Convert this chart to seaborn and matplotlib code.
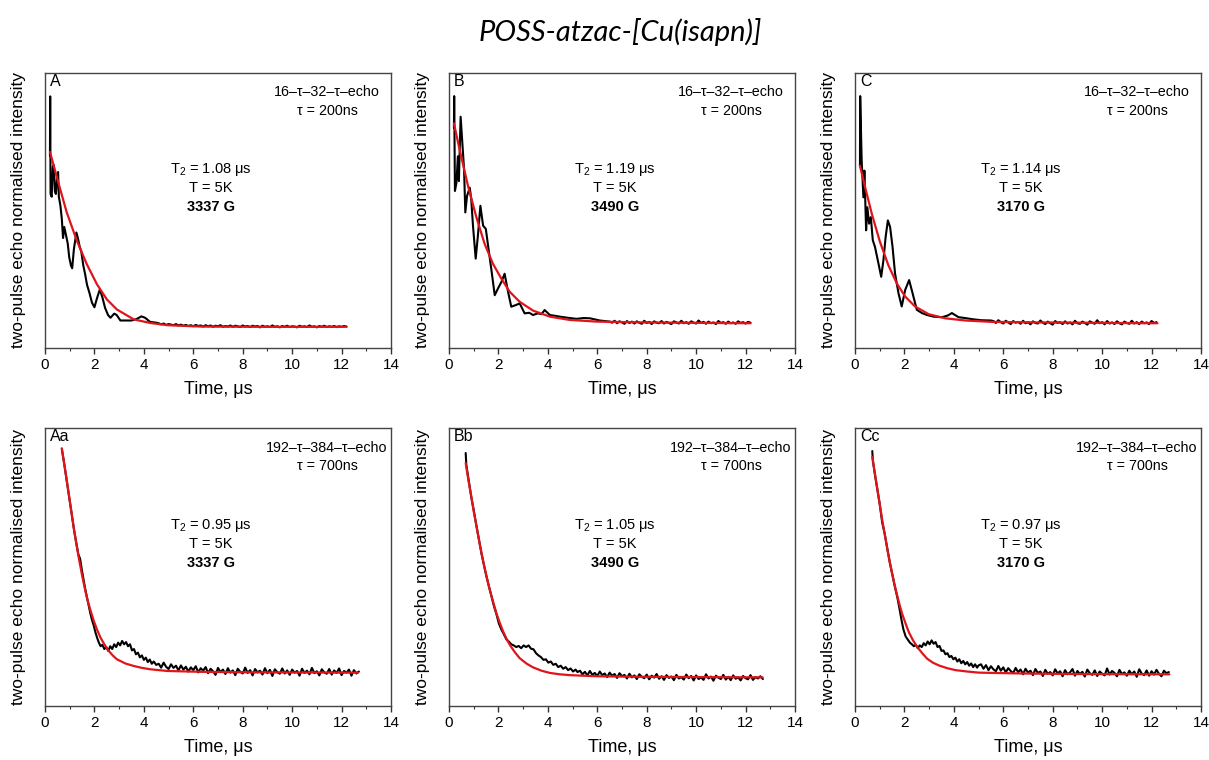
import numpy as np
import pandas as pd
import matplotlib
matplotlib.use("Agg")
import matplotlib.pyplot as plt
import seaborn as sns

sns.set_theme(style="ticks")
plt.rcParams['font.family'] = ['Liberation Sans', 'DejaVu Sans']
plt.rcParams['text.color'] = 'black'
plt.rcParams['axes.labelcolor'] = 'black'
plt.rcParams['xtick.labelcolor'] = 'black'

# ---- data (y in normalised axis units, 0 = bottom, 1 = top) ----
# top row: 16-t-32-t-echo, tau = 200 ns
a_head_t = [0.20, 0.21, 0.225, 0.27, 0.32, 0.36, 0.40, 0.44, 0.49, 0.53, 0.56, 0.62, 0.68, 0.73,
            0.78, 0.85, 0.92, 0.98, 1.05, 1.10, 1.17, 1.27, 1.33, 1.40, 1.47, 1.55, 1.62, 1.70,
            1.80, 1.90, 2.00, 2.10, 2.22, 2.32, 2.43, 2.55, 2.65, 2.80, 2.90, 3.05, 3.20, 3.50,
            3.70, 3.90, 4.05, 4.25, 4.50]
a_head_y = [0.70, 0.915, 0.56, 0.55, 0.66, 0.665, 0.57, 0.56, 0.62, 0.64, 0.55, 0.52, 0.47, 0.40,
            0.44, 0.41, 0.38, 0.33, 0.30, 0.29, 0.36, 0.42, 0.40, 0.37, 0.35, 0.30, 0.27, 0.23,
            0.20, 0.165, 0.148, 0.18, 0.213, 0.185, 0.146, 0.12, 0.11, 0.125, 0.12, 0.10, 0.10, 0.10,
            0.105, 0.115, 0.11, 0.095, 0.092]
a_tail_y = [0.090, 0.086, 0.089, 0.084, 0.087, 0.085, 0.083, 0.087, 0.082, 0.085,
            0.081, 0.084, 0.080, 0.083, 0.079, 0.084, 0.080, 0.082, 0.078, 0.083,
            0.079, 0.082, 0.077, 0.081, 0.079, 0.083, 0.077, 0.080, 0.078, 0.082,
            0.077, 0.081, 0.079, 0.076, 0.082, 0.078, 0.080, 0.076, 0.081, 0.078,
            0.080, 0.075, 0.081, 0.077, 0.079, 0.076, 0.082, 0.077, 0.079, 0.075,
            0.080, 0.077, 0.081, 0.076, 0.079, 0.078, 0.075, 0.081, 0.077, 0.079,
            0.076, 0.082, 0.077, 0.079, 0.075, 0.080, 0.077, 0.081, 0.076, 0.079,
            0.077, 0.080, 0.076, 0.079, 0.077, 0.080, 0.078]
a_fit_t = [0.20, 0.61, 0.88, 1.29, 1.69, 2.10, 2.50, 2.91, 3.59, 4.26, 4.94, 6.29, 9.0, 12.2]
a_fit_y = [0.713, 0.579, 0.493, 0.390, 0.305, 0.232, 0.177, 0.140, 0.104, 0.091, 0.083, 0.078, 0.077, 0.077]

b_head_t = [0.20, 0.21, 0.24, 0.30, 0.36, 0.40, 0.47, 0.54, 0.61, 0.66, 0.73, 0.84, 0.90, 0.97,
            1.08, 1.17, 1.27, 1.38, 1.49, 1.58, 1.71, 1.85, 1.98, 2.12, 2.25, 2.39, 2.52, 2.70,
            2.86, 3.06, 3.25, 3.40, 3.60, 3.74, 3.87, 4.08, 4.30, 4.48, 4.80, 5.16, 5.45, 5.70,
            6.10, 6.50]
b_head_y = [0.80, 0.916, 0.571, 0.60, 0.697, 0.607, 0.841, 0.745, 0.649, 0.493, 0.553, 0.583, 0.541, 0.445,
            0.325, 0.409, 0.517, 0.445, 0.433, 0.373, 0.288, 0.192, 0.216, 0.240, 0.270, 0.204, 0.150, 0.156,
            0.162, 0.126, 0.128, 0.120, 0.126, 0.123, 0.138, 0.120, 0.117, 0.114, 0.110, 0.106, 0.109, 0.108,
            0.100, 0.096]
b_tail_y = [0.092, 0.099, 0.090, 0.097, 0.093, 0.088, 0.098, 0.091, 0.096, 0.089,
            0.097, 0.092, 0.088, 0.099, 0.091, 0.095, 0.087, 0.097, 0.092, 0.090,
            0.098, 0.089, 0.095, 0.091, 0.087, 0.097, 0.093, 0.089, 0.099, 0.090,
            0.094, 0.088, 0.097, 0.092, 0.089, 0.100, 0.091, 0.095, 0.088, 0.096,
            0.090, 0.093, 0.087, 0.098, 0.091, 0.094, 0.088, 0.096, 0.090, 0.093,
            0.088, 0.097, 0.091, 0.094, 0.089, 0.095, 0.092]
b_fit_t = [0.20, 0.43, 0.77, 1.11, 1.44, 1.78, 2.12, 2.46, 2.86, 3.40, 4.08, 4.89, 5.97, 7.86, 12.2]
b_fit_y = [0.817, 0.721, 0.589, 0.475, 0.379, 0.306, 0.252, 0.204, 0.168, 0.136, 0.114, 0.102, 0.096, 0.093, 0.090]

c_head_t = [0.20, 0.21, 0.27, 0.34, 0.38, 0.45, 0.50, 0.57, 0.64, 0.72, 0.81, 0.95, 1.06, 1.15,
            1.24, 1.33, 1.42, 1.52, 1.62, 1.76, 1.89, 2.03, 2.19, 2.33, 2.50, 2.71, 2.91, 3.18,
            3.52, 3.75, 3.92, 4.19, 4.45, 4.73, 5.10, 5.50]
c_head_y = [0.66, 0.916, 0.681, 0.548, 0.645, 0.428, 0.512, 0.452, 0.476, 0.392, 0.367, 0.307, 0.259, 0.319,
            0.404, 0.464, 0.440, 0.367, 0.271, 0.199, 0.151, 0.211, 0.247, 0.199, 0.139, 0.127, 0.120, 0.114,
            0.112, 0.118, 0.127, 0.112, 0.109, 0.105, 0.101, 0.100]
c_tail_y = [0.098, 0.091, 0.101, 0.094, 0.089, 0.099, 0.093, 0.087, 0.098, 0.092,
            0.095, 0.088, 0.099, 0.090, 0.094, 0.086, 0.097, 0.091, 0.089, 0.100,
            0.092, 0.087, 0.096, 0.090, 0.085, 0.098, 0.091, 0.094, 0.087, 0.097,
            0.089, 0.093, 0.086, 0.099, 0.090, 0.088, 0.096, 0.091, 0.085, 0.097,
            0.092, 0.088, 0.101, 0.090, 0.094, 0.086, 0.098, 0.089, 0.093, 0.087,
            0.097, 0.090, 0.086, 0.096, 0.091, 0.088, 0.099, 0.089, 0.094, 0.087,
            0.096, 0.090, 0.093, 0.087, 0.098, 0.091, 0.094]
c_fit_t = [0.20, 0.41, 0.68, 1.01, 1.35, 1.69, 2.03, 2.43, 2.98, 3.65, 4.46, 5.55, 7.44, 12.24]
c_fit_y = [0.663, 0.584, 0.488, 0.386, 0.301, 0.235, 0.187, 0.151, 0.123, 0.108, 0.100, 0.095, 0.093, 0.090]

# bottom row: 192-t-384-t-echo, tau = 700 ns
aa_head_t = [0.68, 0.78, 0.88, 0.98, 1.08, 1.18, 1.29, 1.35, 1.42, 1.49, 1.56, 1.63, 1.69, 1.76,
             1.83, 1.90, 1.97, 2.04, 2.11, 2.18, 2.25, 2.32, 2.40, 2.48, 2.56, 2.64, 2.72, 2.80,
             2.88, 2.96, 3.04, 3.12, 3.20, 3.28, 3.36, 3.44, 3.52, 3.60, 3.68, 3.76, 3.84, 3.92,
             4.00, 4.08, 4.16, 4.24, 4.32, 4.40, 4.50]
aa_head_y = [0.925, 0.87, 0.81, 0.75, 0.69, 0.63, 0.575, 0.545, 0.530, 0.490, 0.455, 0.420, 0.395, 0.365,
             0.335, 0.310, 0.290, 0.265, 0.245, 0.228, 0.215, 0.220, 0.205, 0.212, 0.198, 0.215, 0.205, 0.222,
             0.212, 0.228, 0.218, 0.234, 0.222, 0.230, 0.215, 0.222, 0.200, 0.205, 0.186, 0.192, 0.175, 0.182,
             0.166, 0.174, 0.158, 0.167, 0.152, 0.160, 0.148]
aa_tail_y = [0.152, 0.138, 0.156, 0.141, 0.133, 0.150, 0.137, 0.145, 0.128, 0.146,
             0.131, 0.141, 0.124, 0.139, 0.129, 0.143, 0.121, 0.136, 0.127, 0.140,
             0.118, 0.134, 0.125, 0.112, 0.137, 0.122, 0.131, 0.115, 0.136, 0.120,
             0.128, 0.111, 0.134, 0.123, 0.117, 0.138, 0.119, 0.129, 0.110, 0.133,
             0.121, 0.127, 0.113, 0.136, 0.118, 0.130, 0.108, 0.132, 0.122, 0.116,
             0.135, 0.117, 0.128, 0.112, 0.131, 0.120, 0.126, 0.109, 0.134, 0.119,
             0.127, 0.114, 0.137, 0.118, 0.125, 0.110, 0.132, 0.121, 0.116, 0.133,
             0.113, 0.128, 0.119, 0.135, 0.111, 0.126, 0.120, 0.131, 0.109, 0.129,
             0.117, 0.124]
aa_fit_t = [0.68, 0.78, 0.88, 0.98, 1.08, 1.18, 1.29, 1.39, 1.49, 1.59, 1.69, 1.83, 1.97, 2.10,
            2.24, 2.40, 2.57, 2.74, 2.91, 3.25, 3.59, 3.93, 4.27, 4.95, 6.30, 8.50, 12.67]
aa_fit_y = [0.927, 0.870, 0.812, 0.752, 0.692, 0.632, 0.572, 0.522, 0.475, 0.432, 0.391, 0.347, 0.307, 0.276,
            0.247, 0.222, 0.199, 0.182, 0.168, 0.153, 0.144, 0.137, 0.132, 0.126, 0.123, 0.121, 0.120]

bb_head_t = [0.675, 0.70, 0.80, 0.90, 1.00, 1.11, 1.21, 1.31, 1.41, 1.51, 1.61, 1.71, 1.81, 1.92,
             2.02, 2.12, 2.22, 2.32, 2.42, 2.52, 2.62, 2.72, 2.82, 2.92, 3.02, 3.12, 3.22, 3.32,
             3.42, 3.52, 3.62, 3.72, 3.82, 3.92, 4.02, 4.12, 4.22, 4.32, 4.42, 4.52, 4.62, 4.72,
             4.82, 4.92, 5.02, 5.12, 5.20]
bb_head_y = [0.910, 0.868, 0.810, 0.752, 0.705, 0.648, 0.600, 0.550, 0.508, 0.468, 0.432, 0.398, 0.362, 0.330,
             0.296, 0.275, 0.258, 0.240, 0.232, 0.222, 0.218, 0.212, 0.216, 0.208, 0.218, 0.212, 0.218, 0.206,
             0.204, 0.190, 0.182, 0.176, 0.166, 0.168, 0.156, 0.160, 0.148, 0.152, 0.140, 0.145, 0.134, 0.140,
             0.129, 0.135, 0.124, 0.131, 0.122]
bb_tail_y = [0.127, 0.114, 0.123, 0.110, 0.126, 0.112, 0.119, 0.108, 0.124, 0.111,
             0.117, 0.104, 0.120, 0.109, 0.115, 0.101, 0.118, 0.107, 0.112, 0.099,
             0.116, 0.103, 0.110, 0.097, 0.114, 0.105, 0.100, 0.113, 0.096, 0.109,
             0.102, 0.115, 0.098, 0.107, 0.094, 0.111, 0.101, 0.106, 0.093, 0.112,
             0.099, 0.104, 0.095, 0.113, 0.100, 0.108, 0.092, 0.110, 0.097, 0.103,
             0.094, 0.114, 0.099, 0.106, 0.091, 0.109, 0.102, 0.097, 0.112, 0.095,
             0.105, 0.093, 0.110, 0.098, 0.103, 0.092, 0.108, 0.100, 0.096, 0.111,
             0.094, 0.104, 0.099, 0.107, 0.097]
bb_fit_t = [0.675, 0.78, 0.90, 1.00, 1.11, 1.21, 1.31, 1.41, 1.51, 1.61, 1.71, 1.82, 1.92, 2.05,
            2.19, 2.32, 2.46, 2.66, 2.86, 3.13, 3.40, 3.74, 4.08, 4.48, 4.89, 5.97, 7.86, 12.69]
bb_fit_y = [0.874, 0.815, 0.755, 0.700, 0.648, 0.598, 0.553, 0.510, 0.470, 0.432, 0.398, 0.364, 0.333, 0.300,
            0.268, 0.243, 0.220, 0.194, 0.172, 0.153, 0.139, 0.127, 0.119, 0.114, 0.111, 0.107, 0.105, 0.103]

cc_head_t = [0.70, 0.72, 0.80, 0.90, 1.00, 1.10, 1.20, 1.31, 1.41, 1.51, 1.61, 1.71, 1.80, 1.88,
             1.96, 2.05, 2.14, 2.22, 2.30, 2.38, 2.46, 2.54, 2.62, 2.70, 2.78, 2.86, 2.94, 3.02,
             3.10, 3.18, 3.26, 3.34, 3.42, 3.50, 3.58, 3.66, 3.74, 3.82, 3.90, 3.98, 4.06, 4.14,
             4.22, 4.30, 4.38, 4.46, 4.54, 4.62, 4.70, 4.78, 4.86, 4.94, 5.00]
cc_head_y = [0.917, 0.885, 0.835, 0.782, 0.727, 0.660, 0.620, 0.566, 0.515, 0.472, 0.430, 0.392, 0.350, 0.310,
             0.275, 0.250, 0.238, 0.228, 0.222, 0.215, 0.220, 0.208, 0.218, 0.212, 0.226, 0.218, 0.232, 0.222,
             0.236, 0.224, 0.230, 0.212, 0.216, 0.198, 0.200, 0.186, 0.190, 0.176, 0.180, 0.168, 0.174, 0.160,
             0.168, 0.154, 0.162, 0.150, 0.158, 0.145, 0.153, 0.140, 0.150, 0.138, 0.146]
cc_tail_y = [0.150, 0.134, 0.147, 0.129, 0.143, 0.132, 0.125, 0.144, 0.127, 0.139,
             0.121, 0.136, 0.126, 0.118, 0.137, 0.122, 0.131, 0.114, 0.134, 0.120,
             0.127, 0.111, 0.133, 0.119, 0.124, 0.108, 0.130, 0.116, 0.122, 0.110,
             0.132, 0.117, 0.125, 0.107, 0.129, 0.114, 0.121, 0.133, 0.109, 0.126,
             0.115, 0.123, 0.106, 0.131, 0.118, 0.112, 0.128, 0.108, 0.124, 0.116,
             0.110, 0.135, 0.113, 0.126, 0.119, 0.107, 0.130, 0.115, 0.121, 0.109,
             0.127, 0.114, 0.124, 0.105, 0.132, 0.117, 0.111, 0.128, 0.109, 0.125,
             0.113, 0.130, 0.116, 0.107, 0.127, 0.118, 0.122]
cc_fit_t = [0.70, 0.80, 0.90, 1.00, 1.10, 1.21, 1.31, 1.41, 1.51, 1.61, 1.71, 1.81, 1.91, 2.05,
            2.18, 2.35, 2.52, 2.72, 2.92, 3.15, 3.39, 3.73, 4.07, 4.54, 5.01, 6.76, 9.00, 12.72]
cc_fit_y = [0.896, 0.840, 0.783, 0.726, 0.670, 0.615, 0.563, 0.517, 0.474, 0.433, 0.396, 0.362, 0.331, 0.296,
            0.265, 0.236, 0.212, 0.190, 0.170, 0.156, 0.146, 0.136, 0.129, 0.124, 0.120, 0.117, 0.115, 0.114]

# tail samples are spaced 0.1 us from the given start
panels = [
    ("A", a_head_t, a_head_y, 4.6, a_tail_y, a_fit_t, a_fit_y, "1.08", "3337 G", 0),
    ("B", b_head_t, b_head_y, 6.6, b_tail_y, b_fit_t, b_fit_y, "1.19", "3490 G", 0),
    ("C", c_head_t, c_head_y, 5.6, c_tail_y, c_fit_t, c_fit_y, "1.14", "3170 G", 0),
    ("Aa", aa_head_t, aa_head_y, 4.6, aa_tail_y, aa_fit_t, aa_fit_y, "0.95", "3337 G", 1),
    ("Bb", bb_head_t, bb_head_y, 5.3, bb_tail_y, bb_fit_t, bb_fit_y, "1.05", "3490 G", 1),
    ("Cc", cc_head_t, cc_head_y, 5.1, cc_tail_y, cc_fit_t, cc_fit_y, "0.97", "3170 G", 1),
]
sequences = ["16\u2013\u03c4\u201332\u2013\u03c4\u2013echo\n\u03c4 = 200ns",
             "192\u2013\u03c4\u2013384\u2013\u03c4\u2013echo\n\u03c4 = 700ns"]

fig = plt.figure(figsize=(12.09, 7.6), dpi=100)
fig.patch.set_facecolor("white")

lefts = [45, 449, 855]
W, H = 1209, 760
for i, (lab, ht, hy, t0, ty, ft, fy, t2, field, row) in enumerate(panels):
    col = i % 3
    if row == 0:
        top, bot = 73, 348
    else:
        top, bot = 428, 706
    ax = fig.add_axes([lefts[col] / W, (H - bot) / H, 346 / W, (bot - top) / H])

    tail_t = [round(t0 + 0.1 * k, 2) for k in range(len(ty))]
    raw = pd.DataFrame({"t": list(ht) + tail_t, "y": list(hy) + list(ty)})
    fit = pd.DataFrame({"t": ft, "y": fy})
    sns.lineplot(data=raw, x="t", y="y", ax=ax, color="black", lw=1.5,
                 estimator=None, sort=False)
    sns.lineplot(data=fit, x="t", y="y", ax=ax, color="#e0141b", lw=1.6,
                 estimator=None, sort=False)

    ax.set_xlim(0, 14)
    ax.set_ylim(0, 1)
    ax.set_xticks(range(0, 15, 2))
    ax.set_xticks(range(1, 14, 2), minor=True)
    ax.set_yticks([])
    ax.tick_params(axis="x", which="major", direction="out", length=4, width=1,
                   labelsize=11, pad=3, color="#333333")
    ax.tick_params(axis="x", which="minor", direction="out", length=2.5, width=0.8,
                   color="#333333")
    for s in ax.spines.values():
        s.set_color("#444444")
        s.set_linewidth(1.0)
    ax.set_xlabel("Time, \u03bcs", fontsize=13, labelpad=7)
    ax.set_ylabel("two-pulse echo normalised intensity", fontsize=12.5, labelpad=14)

    ax.text(0.015, 0.995, lab, transform=ax.transAxes, ha="left", va="top", fontsize=11.5)
    ax.text(0.815, 0.955, sequences[row], transform=ax.transAxes, ha="center", va="top",
            fontsize=10.3, linespacing=1.4)
    ax.text(0.48, 0.65, "T$_\\mathregular{2}$ = " + t2 + " \u03bcs", transform=ax.transAxes,
            ha="center", va="center", fontsize=10.5)
    ax.text(0.48, 0.582, "T = 5K", transform=ax.transAxes, ha="center", va="center", fontsize=10.5)
    ax.text(0.48, 0.513, field, transform=ax.transAxes, ha="center", va="center",
            fontsize=10.5, fontweight="bold")

fig.text(0.513, 0.958, "POSS-atzac-[Cu(isapn)]", ha="center", va="center",
         fontsize=21, style="italic", family=["Lato", "DejaVu Sans"])

fig.savefig("out.png", dpi=100, facecolor="white")
